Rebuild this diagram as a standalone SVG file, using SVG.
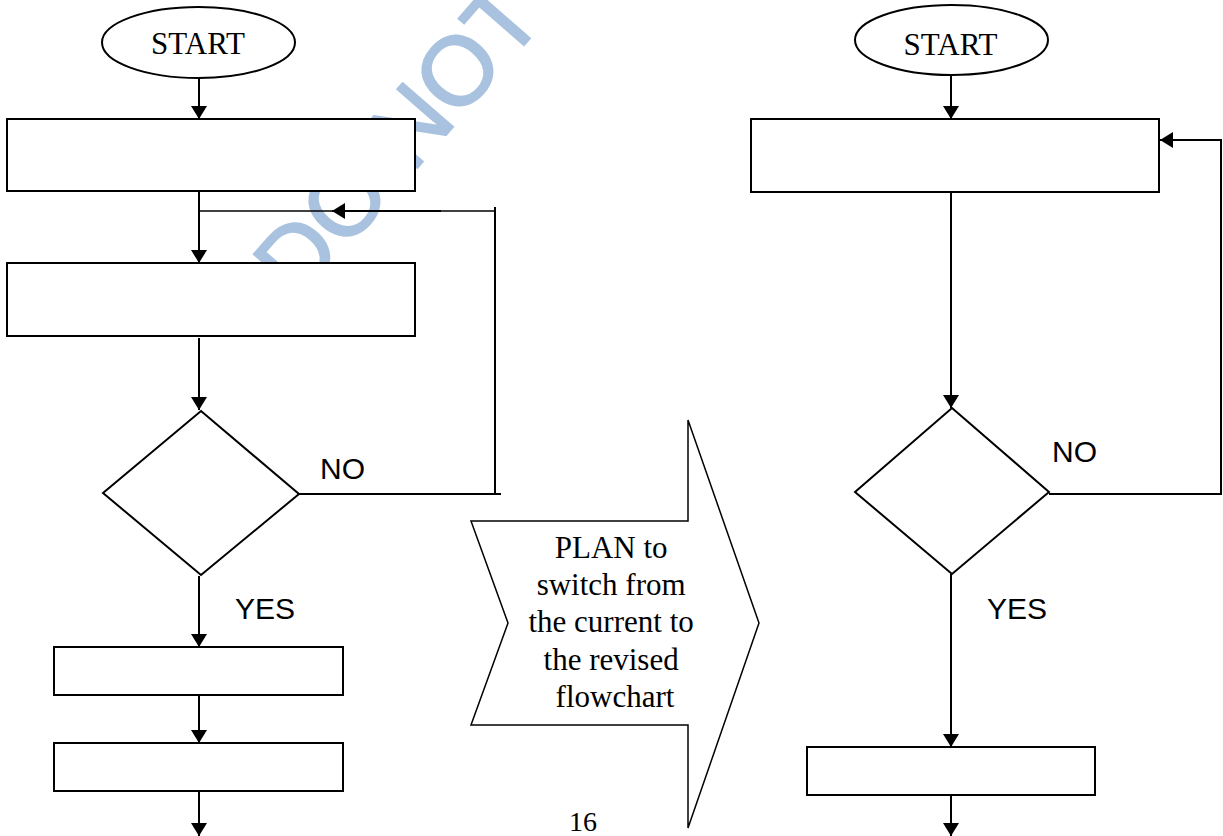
<svg xmlns="http://www.w3.org/2000/svg" width="1223" height="836" viewBox="0 0 1223 836">
<defs>
<marker id="ah" markerUnits="userSpaceOnUse" markerWidth="14" markerHeight="16" refX="13" refY="8" orient="auto">
<path d="M0,0 L13,8 L0,16 z" fill="#000"/>
</marker>
<style>
.shape{fill:#fff;stroke:#000;stroke-width:2}
.ln{fill:none;stroke:#000;stroke-width:2}
.thin{fill:none;stroke:#000;stroke-width:1.5}
.serif{font-family:"Liberation Serif","Times New Roman",serif;font-size:31px;fill:#000}
.sans{font-family:"Liberation Sans",Arial,sans-serif;font-size:30px;fill:#000}
.wm{font-family:"Liberation Sans",Arial,sans-serif;font-size:97px;fill:#a8c2df;stroke:#a8c2df;stroke-width:2}
</style>
</defs>
<rect width="1223" height="836" fill="#fff"/>
<g id="watermark">
<text class="wm" transform="translate(299,304) rotate(-49)">DO NOT COPY</text>
</g>
<g id="connectors">
<line class="ln" x1="199" y1="78" x2="199" y2="119" marker-end="url(#ah)"/>
<line class="ln" x1="199" y1="191" x2="199" y2="263" marker-end="url(#ah)"/>
<line class="thin" x1="199" y1="211" x2="495" y2="211"/>
<line class="ln" x1="441" y1="211" x2="332" y2="211" marker-end="url(#ah)"/>
<line class="ln" x1="495" y1="207" x2="495" y2="495"/>
<line class="ln" x1="298" y1="494" x2="501" y2="494"/>
<line class="ln" x1="199" y1="338" x2="199" y2="410" marker-end="url(#ah)"/>
<line class="ln" x1="199" y1="576" x2="199" y2="647" marker-end="url(#ah)"/>
<line class="ln" x1="199" y1="695" x2="199" y2="743" marker-end="url(#ah)"/>
<line class="ln" x1="199" y1="791" x2="199" y2="836" marker-end="url(#ah)"/>
<line class="ln" x1="951" y1="75" x2="951" y2="119" marker-end="url(#ah)"/>
<line class="ln" x1="951" y1="192" x2="951" y2="408" marker-end="url(#ah)"/>
<polyline class="ln" points="1049,494 1221,494 1221,140 1160,140" marker-end="url(#ah)"/>
<line class="ln" x1="951" y1="574" x2="951" y2="747" marker-end="url(#ah)"/>
<line class="ln" x1="951" y1="795" x2="951" y2="836" marker-end="url(#ah)"/>
</g>
<g id="left-start">
<ellipse class="shape" cx="198.5" cy="42.5" rx="96.5" ry="35.5"/>
<text class="serif" x="198" y="54" text-anchor="middle">START</text>
</g>
<g id="left-box1"><rect class="shape" x="7" y="119" width="408" height="72"/></g>
<g id="left-box2"><rect class="shape" x="7" y="263" width="408" height="73"/></g>
<g id="left-decision">
<polygon class="shape" points="201,411 299,494 201,575 103,493"/>
</g>
<g id="left-box3"><rect class="shape" x="54" y="647" width="289" height="48"/></g>
<g id="left-box4"><rect class="shape" x="54" y="743" width="289" height="48"/></g>
<g id="labels-left">
<text class="sans" x="320" y="479">NO</text>
<text class="sans" x="235" y="619">YES</text>
</g>
<g id="plan-arrow">
<polygon class="thin" fill="#fff" points="688,420 688,521 471,521 508,623 471,725 688,725 688,828 759,623"/>
<text class="serif" text-anchor="middle">
<tspan x="615" y="558">PLAN to</tspan>
<tspan x="615" y="595">switch from</tspan>
<tspan x="615" y="632">the current to</tspan>
<tspan x="615" y="670">the revised</tspan>
<tspan x="615" y="707">flowchart</tspan>
</text>
</g>
<g id="page-number">
<text class="serif" x="569" y="831" style="font-size:28px">16</text>
</g>
<g id="right-start">
<ellipse class="shape" cx="951.5" cy="40" rx="96.5" ry="35"/>
<text class="serif" x="950.5" y="55" text-anchor="middle">START</text>
</g>
<g id="right-box1"><rect class="shape" x="751" y="119" width="408" height="73"/></g>
<g id="right-decision">
<polygon class="shape" points="952,408 1049,492 952,574 855,492"/>
</g>
<g id="right-box2"><rect class="shape" x="807" y="747" width="288" height="48"/></g>
<g id="labels-right">
<text class="sans" x="1052" y="462">NO</text>
<text class="sans" x="987" y="619">YES</text>
</g>
</svg>
